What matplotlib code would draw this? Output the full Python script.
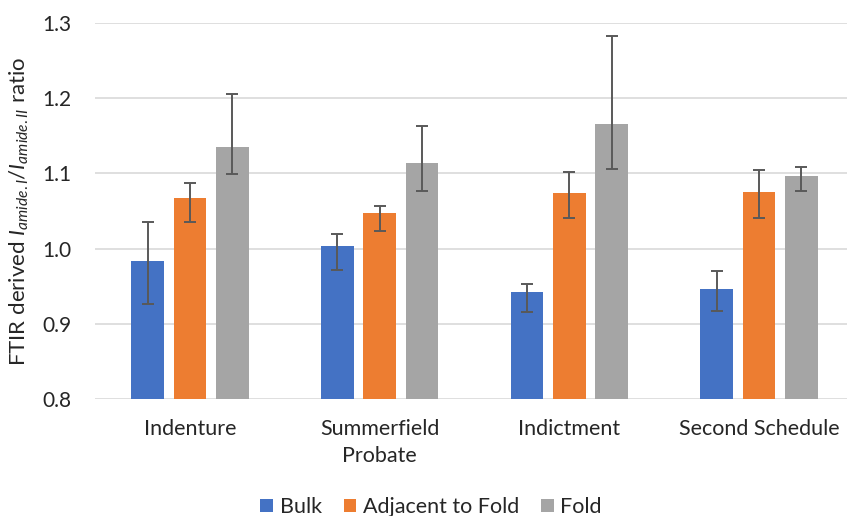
import numpy as np
import matplotlib.pyplot as plt

plt.rcParams['font.family'] = ['Lato', 'DejaVu Sans']
plt.rcParams['mathtext.fontset'] = 'custom'
plt.rcParams['mathtext.rm'] = 'Lato'
plt.rcParams['mathtext.it'] = 'Lato:italic'

documents = ["Indenture", "Summerfield\nProbate", "Indictment", "Second Schedule"]
series = ["Bulk", "Adjacent to Fold", "Fold"]
colors = ["#4472C4", "#ED7D31", "#A5A5A5"]

bulk = [0.983, 1.004, 0.942, 0.947]
bulk_lo = [0.926, 0.972, 0.916, 0.917]
bulk_hi = [1.035, 1.020, 0.953, 0.971]

adjacent = [1.067, 1.048, 1.074, 1.075]
adjacent_lo = [1.036, 1.023, 1.041, 1.041]
adjacent_hi = [1.087, 1.056, 1.102, 1.104]

fold = [1.135, 1.114, 1.165, 1.097]
fold_lo = [1.099, 1.076, 1.106, 1.076]
fold_hi = [1.205, 1.163, 1.283, 1.108]

values = [bulk, adjacent, fold]
lows = [bulk_lo, adjacent_lo, fold_lo]
highs = [bulk_hi, adjacent_hi, fold_hi]

fig = plt.figure(figsize=(8.47, 5.16), dpi=100)
ax = fig.add_axes([95 / 847, 1 - 399.3 / 516, 759 / 847, 376.6 / 516])

x = np.arange(len(documents))
offsets = [-0.223, 0.0, 0.223]
for i in range(3):
    v = np.array(values[i])
    err = [v - np.array(lows[i]), np.array(highs[i]) - v]
    ax.bar(x + offsets[i], v, width=0.172, color=colors[i], label=series[i], zorder=2)
    ax.errorbar(x + offsets[i], v, yerr=err, fmt='none', ecolor='#595959',
                elinewidth=1.4, capsize=4, capthick=1.4, zorder=3)

ax.set_xlim(-0.5, 3.5)
ax.set_ylim(0.8, 1.3)
ax.set_yticks(np.arange(0.8, 1.31, 0.1))
ax.set_yticklabels([f"{t:.1f}" for t in np.arange(0.8, 1.31, 0.1)])
ax.set_xticks(x)
ax.set_xticklabels(documents, linespacing=1.45)
ax.tick_params(axis='y', length=0, pad=17, labelsize=15, labelcolor='#262626')
ax.tick_params(axis='x', length=0, pad=14, labelsize=15.5, labelcolor='#262626')
ax.grid(axis='y', color='#D9D9D9', linewidth=1.2, zorder=0)
ax.set_axisbelow(True)
for s in ax.spines.values():
    s.set_visible(False)

ax.set_ylabel(r"FTIR derived $I_{amide.I}/I_{amide.II}$ ratio", fontsize=16, color='#262626', labelpad=8)

ax.legend(loc='center', bbox_to_anchor=(431 / 847, 1 - 507 / 516), bbox_transform=fig.transFigure,
          ncol=3, frameon=False, fontsize=15.5, handlelength=0.6, handleheight=0.6,
          handletextpad=0.3, columnspacing=1.0, labelcolor='#262626')

fig.savefig("out.png", dpi=100)
